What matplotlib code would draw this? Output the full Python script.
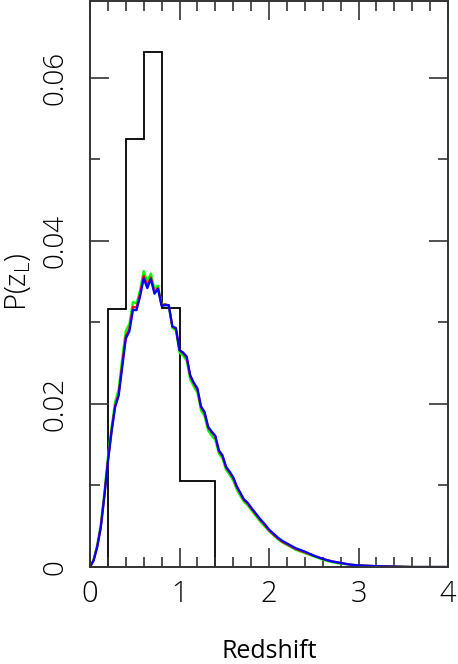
import matplotlib
matplotlib.use("Agg")
import matplotlib.pyplot as plt
import numpy as np

# histogram of lens redshifts
bin_edges = [0.2, 0.4, 0.6, 0.8, 1.0, 1.2, 1.4]
hist_vals = [0.0316, 0.0525, 0.0632, 0.0317, 0.0106, 0.0106]

# model curves P(z_L)
z = [0.00, 0.04, 0.08, 0.12, 0.16, 0.20, 0.24, 0.28, 0.32, 0.36, 0.40, 0.44,
     0.48, 0.52, 0.56, 0.60, 0.64, 0.68, 0.72, 0.76, 0.80, 0.84, 0.88, 0.92,
     0.96, 1.00, 1.04, 1.08, 1.12, 1.16, 1.20, 1.24, 1.28, 1.32, 1.36, 1.40,
     1.44, 1.48, 1.52, 1.56, 1.60, 1.64, 1.68, 1.72, 1.76, 1.80, 1.85, 1.90,
     1.95, 2.00, 2.05, 2.10, 2.15, 2.20, 2.30, 2.40, 2.50, 2.60, 2.70, 2.80,
     2.90, 3.00, 3.20, 3.40, 3.60, 4.00]
p_blue = [0.0000, 0.0008, 0.0024, 0.0048, 0.0086, 0.0129, 0.0165, 0.0196,
          0.0210, 0.0245, 0.0280, 0.0289, 0.0315, 0.0315, 0.0332, 0.0354,
          0.0342, 0.0353, 0.0335, 0.0341, 0.0320, 0.0321, 0.0321, 0.0295,
          0.0293, 0.0266, 0.0263, 0.0258, 0.0235, 0.0226, 0.0219, 0.0197,
          0.0190, 0.0172, 0.0166, 0.0161, 0.0143, 0.0137, 0.0123, 0.0117,
          0.0110, 0.0099, 0.0091, 0.0083, 0.0079, 0.0073, 0.0066, 0.0059,
          0.0053, 0.0046, 0.0041, 0.0036, 0.0032, 0.0029, 0.0023, 0.0019,
          0.0014, 0.0010, 0.0007, 0.0005, 0.0003, 0.0002, 0.0001, 0.00005,
          0.0000, 0.0000]
p_red = [0.0000, 0.0008, 0.0025, 0.0049, 0.0087, 0.0130, 0.0166, 0.0197,
         0.0212, 0.0248, 0.0283, 0.0292, 0.0319, 0.0318, 0.0335, 0.0357,
         0.0345, 0.0355, 0.0337, 0.0342, 0.0321, 0.0322, 0.0321, 0.0295,
         0.0292, 0.0266, 0.0262, 0.0257, 0.0234, 0.0225, 0.0218, 0.0196,
         0.0189, 0.0171, 0.0165, 0.0160, 0.0142, 0.0136, 0.0122, 0.0116,
         0.0109, 0.0098, 0.0090, 0.0082, 0.0078, 0.0072, 0.0065, 0.0058,
         0.0052, 0.0045, 0.0040, 0.0035, 0.0031, 0.0028, 0.0022, 0.0018,
         0.0014, 0.0010, 0.0007, 0.0005, 0.0003, 0.0002, 0.0001, 0.00005,
         0.0000, 0.0000]
p_green = [0.0000, 0.0009, 0.0027, 0.0052, 0.0091, 0.0135, 0.0171, 0.0202,
           0.0218, 0.0256, 0.0290, 0.0298, 0.0325, 0.0323, 0.0340, 0.0363,
           0.0350, 0.0360, 0.0341, 0.0345, 0.0322, 0.0322, 0.0320, 0.0293,
           0.0290, 0.0263, 0.0259, 0.0253, 0.0230, 0.0221, 0.0214, 0.0192,
           0.0185, 0.0167, 0.0161, 0.0156, 0.0139, 0.0133, 0.0119, 0.0113,
           0.0106, 0.0095, 0.0087, 0.0080, 0.0076, 0.0070, 0.0063, 0.0056,
           0.0050, 0.0044, 0.0039, 0.0034, 0.0030, 0.0027, 0.0021, 0.0017,
           0.0013, 0.0009, 0.0006, 0.0004, 0.0003, 0.0002, 0.0001, 0.00005,
           0.0000, 0.0000]

plt.rcParams['font.family'] = ['Open Sans', 'DejaVu Sans']
plt.rcParams['font.weight'] = 'light'
plt.rcParams['mathtext.fontset'] = 'custom'
plt.rcParams['mathtext.rm'] = 'Open Sans:light'

fig = plt.figure(figsize=(4.58, 6.64), dpi=100)
ax = fig.add_axes([90/458, 97/664, 358/458, 566/664])

ax.stairs(hist_vals, bin_edges, color='black', lw=1.3, baseline=0)
ax.plot(z, p_green, color='#00ff00', lw=1.6)
ax.plot(z, p_red, color='#ff0000', lw=1.6)
ax.plot(z, p_blue, color='#0000ff', lw=1.6)

ax.set_xlim(0, 4)
ax.set_ylim(0, 0.0694)
ax.set_xticks([0, 1, 2, 3, 4])
ax.set_xticks(np.arange(0, 4.01, 0.2), minor=True)
ax.set_yticks([0, 0.02, 0.04, 0.06])
ax.set_yticklabels(['0', '0.02', '0.04', '0.06'])
ax.set_yticks([0.01, 0.03, 0.05], minor=True)

for s in ax.spines.values():
    s.set_linewidth(1.4)
    s.set_color('#333333')
ax.tick_params(which='both', direction='in', top=True, right=True,
               color='#333333', width=1.2)
ax.tick_params(which='major', length=14)
ax.tick_params(which='minor', length=7)
ax.tick_params(axis='x', labelsize=21, pad=9)
ax.tick_params(axis='y', labelsize=20, pad=15, labelrotation=90)
for lab in ax.get_yticklabels():
    lab.set_va('center')

ax.set_xlabel('Redshift', fontsize=18, va='baseline')
ax.xaxis.set_label_coords(0.5, -0.160)
fig.text(18/458, 1 - 282/664, r'P(z$_\mathregular{L}$)', fontsize=21,
         rotation=90, ha='center', va='center')

fig.savefig('out.png', dpi=100)
